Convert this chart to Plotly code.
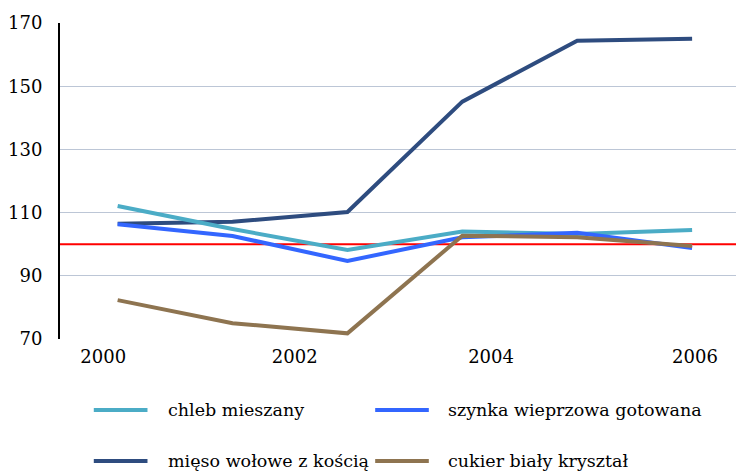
import plotly.graph_objects as go

# ---- data ----
x_pos = [2000, 2001.2, 2002.4, 2003.6, 2004.8, 2006]
series_names = ["chleb mieszany", "szynka wieprzowa gotowana",
                "mięso wołowe z kością", "cukier biały kryształ"]
chleb = [112.1, 104.8, 98.2, 104.0, 103.2, 104.5]
szynka = [106.3, 102.6, 94.7, 102.2, 103.6, 98.8]
mieso = [106.5, 107.1, 110.2, 145.1, 164.4, 165.0]
cukier = [82.3, 75.0, 71.8, 102.7, 102.2, 99.4]
tick_vals = [1999.85, 2001.85, 2003.9, 2006.03]
tick_text = ["2000", "2002", "2004", "2006"]
y_ticks = [70, 90, 110, 130, 150, 170]
ref_level = 100

colors = ["#4BACC6", "#3366FF", "#2E4C7F", "#8E7450"]
values = [chleb, szynka, mieso, cukier]
draw_order = [2, 0, 1, 3]

FONT = "DejaVu Serif"
fig = go.Figure()
for i in draw_order:
    fig.add_trace(go.Scatter(
        x=x_pos, y=values[i], mode="lines", name=series_names[i],
        line=dict(color=colors[i], width=4), showlegend=False))

# reference line at 100
fig.add_shape(type="line", xref="paper", x0=0, x1=1, yref="y",
              y0=ref_level, y1=ref_level, line=dict(color="#FF0000", width=2),
              layer="below")

# manual legend
leg_rows = [-0.2247, -0.386]
leg_line_x = [(0.0494, 0.1279), (0.4608, 0.5392)]
leg_text_x = [0.1555, 0.5640]
for k in range(4):
    r, c = divmod(k, 2)
    fig.add_shape(type="line", xref="paper", yref="paper",
                  x0=leg_line_x[c][0], x1=leg_line_x[c][1],
                  y0=leg_rows[r], y1=leg_rows[r],
                  line=dict(color=colors[k], width=4))
    fig.add_annotation(xref="paper", yref="paper", x=leg_text_x[c],
                       y=leg_rows[r], text=series_names[k], showarrow=False,
                       xanchor="left", yanchor="middle",
                       font=dict(family=FONT, size=17.5, color="#000000"))

fig.update_layout(
    width=736, height=465,
    margin=dict(l=48, r=0, t=15, b=134),
    paper_bgcolor="white", plot_bgcolor="white",
    font=dict(family=FONT, size=18, color="#000000"),
    showlegend=False,
)
fig.update_xaxes(range=[1999.398, 2006.542], tickvals=tick_vals,
                 ticktext=tick_text, showgrid=False, zeroline=False,
                 showline=False, ticks="", ticklabelstandoff=5)
fig.update_yaxes(range=[70, 170], tickvals=y_ticks, showgrid=True,
                 gridcolor="#BCC6D6", gridwidth=1.2, zeroline=False,
                 showline=True, linecolor="#000000", linewidth=2,
                 ticks="outside", ticklen=12, tickcolor="rgba(0,0,0,0)")

fig.write_html("out.html")
